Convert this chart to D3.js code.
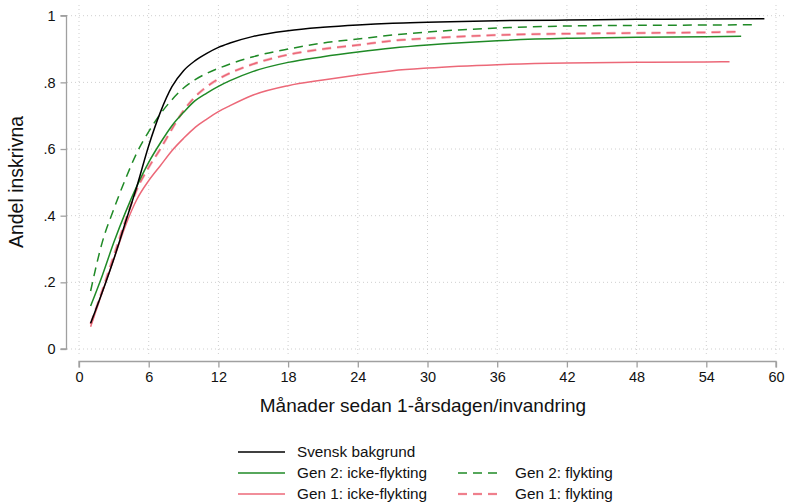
<!DOCTYPE html>
<html>
<head>
<meta charset="utf-8">
<script src="https://cdn.jsdelivr.net/npm/d3@7/dist/d3.min.js"></script>
<style>
  html, body { margin: 0; padding: 0; background: #fff; }
  svg { display: block; font-family: "Liberation Sans", Arial, sans-serif; }
</style>
</head>
<body>
<svg id="chart" width="788" height="504"></svg>
<script>
// ---- data ----
const months = [1,2,3,4,5,6,7,8,9,10,11,12,13,15,18,21,24,27,30,36,42,48,54];
const svensk   = [0.077,0.17,0.27,0.38,0.49,0.61,0.71,0.787,0.835,0.865,0.887,0.905,0.918,0.938,0.955,0.965,0.972,0.977,0.98,0.985,0.987,0.989,0.99];
const gen2Icke = [0.129,0.22,0.32,0.41,0.49,0.56,0.618,0.67,0.71,0.745,0.768,0.788,0.805,0.833,0.86,0.877,0.891,0.903,0.912,0.925,0.932,0.935,0.937];
const gen2Fly  = [0.174,0.32,0.42,0.51,0.59,0.652,0.705,0.748,0.783,0.808,0.827,0.842,0.855,0.877,0.90,0.918,0.93,0.942,0.951,0.963,0.969,0.971,0.972];
const gen1Icke = [0.067,0.17,0.27,0.37,0.45,0.505,0.55,0.595,0.632,0.665,0.69,0.712,0.73,0.762,0.79,0.807,0.822,0.835,0.843,0.853,0.858,0.86,0.861];
const gen1Fly  = [0.075,0.175,0.28,0.385,0.48,0.545,0.60,0.66,0.715,0.757,0.787,0.81,0.828,0.855,0.883,0.90,0.912,0.925,0.932,0.942,0.946,0.948,0.95];
const endMonths = [59, 57, 58, 56, 57];
const endValues = [0.991, 0.938, 0.973, 0.862, 0.952];
const seriesNames = ["Svensk bakgrund","Gen 2: icke-flykting","Gen 2: flykting","Gen 1: icke-flykting","Gen 1: flykting"];
const xTicks = [0,6,12,18,24,30,36,42,48,54,60];
const yTicks = [0,0.2,0.4,0.6,0.8,1];
const yTickLabels = ["0",".2",".4",".6",".8","1"];

// ---- styles ----
const colors = ["#000000","#1f8a26","#1f8a26","#ec6878","#ec6878"];
const dashes = [null,null,"9,6",null,"9,6"];

const svg = d3.select("#chart");
const x = d3.scaleLinear().domain([0,60]).range([79,776]);
const y = d3.scaleLinear().domain([0,1]).range([349,15.7]);

// grid
const grid = svg.append("g");
grid.selectAll("line.v").data(xTicks).join("line")
  .attr("x1", d=>x(d)).attr("x2", d=>x(d)).attr("y1", 5).attr("y2", 357)
  .attr("stroke","#cfcfcf").attr("stroke-width",1).attr("stroke-dasharray","1,3");
grid.selectAll("line.h").data(yTicks).join("line")
  .attr("x1", 67).attr("x2", 786).attr("y1", d=>y(d)).attr("y2", d=>y(d))
  .attr("stroke","#cfcfcf").attr("stroke-width",1).attr("stroke-dasharray","1,3");

// axes
const axisColor = "#a0a0a0";
const yAxis = svg.append("g").attr("transform","translate(66.5,0)")
  .call(d3.axisLeft(y).tickValues(yTicks).tickFormat((d,i)=>yTickLabels[i]).tickSize(6).tickPadding(5));
const xAxis = svg.append("g").attr("transform","translate(0,361.5)")
  .call(d3.axisBottom(x).tickValues(xTicks).tickSize(6).tickPadding(4));
[xAxis,yAxis].forEach(g=>{
  g.select(".domain").attr("stroke",axisColor).attr("stroke-width",1.3);
  g.selectAll(".tick line").attr("stroke",axisColor).attr("stroke-width",1.3);
  g.selectAll(".tick text").attr("fill","#111").style("font-size","14.5px").style("font-family","'Liberation Sans', Arial, sans-serif");
});
xAxis.select(".domain").attr("d", "M79,6V0H776V6");
yAxis.select(".domain").attr("d", "M-6,"+y(1)+"H0V"+y(0)+"H-6");

// titles
svg.append("text").attr("x",423).attr("y",412).attr("text-anchor","middle")
  .style("font-size","19px").attr("fill","#111").text("Månader sedan 1-årsdagen/invandring");
svg.append("text").attr("transform","translate(23,182) rotate(-90)").attr("text-anchor","middle")
  .style("font-size","19.5px").attr("fill","#111").text("Andel inskrivna");

// lines
const allVals = [svensk, gen2Icke, gen2Fly, gen1Icke, gen1Fly];
const line = d3.line().x(d=>x(d[0])).y(d=>y(d[1])).curve(d3.curveMonotoneX);
const order = [4,3,2,1,0];
order.forEach(i=>{
  const pts = months.map((m,j)=>[m, allVals[i][j]]).concat([[endMonths[i], endValues[i]]]);
  if (i===4) {
    svg.append("path").datum(pts).attr("d",line).attr("fill","none")
      .attr("stroke","#f8c4cb").attr("stroke-width",2.8).attr("stroke-dasharray",dashes[i]);
  }
  svg.append("path").datum(pts).attr("d",line).attr("fill","none")
    .attr("stroke",colors[i]).attr("stroke-width",1.5)
    .attr("stroke-dasharray",dashes[i]);
});

// legend
const legendPos = [[238,452],[238,473],[458,473],[238,494],[458,494]];
const lg = svg.append("g");
seriesNames.forEach((name,i)=>{
  const [lx,ly] = legendPos[i];
  if (i===4) {
    lg.append("line").attr("x1",lx).attr("x2",lx+42).attr("y1",ly).attr("y2",ly)
      .attr("stroke","#f8c4cb").attr("stroke-width",2.6).attr("stroke-dasharray",dashes[i]);
  }
  lg.append("line").attr("x1",lx).attr("x2",lx+(dashes[i]?42:47)).attr("y1",ly).attr("y2",ly)
    .attr("stroke",colors[i]).attr("stroke-width",1.5).attr("stroke-dasharray",dashes[i]);
  lg.append("text").attr("x",lx+(i===2||i===4?57:59)).attr("y",ly).attr("dy","0.35em")
    .style("font-size","15.3px").attr("fill","#111").text(name);
});
</script>
</body>
</html>
